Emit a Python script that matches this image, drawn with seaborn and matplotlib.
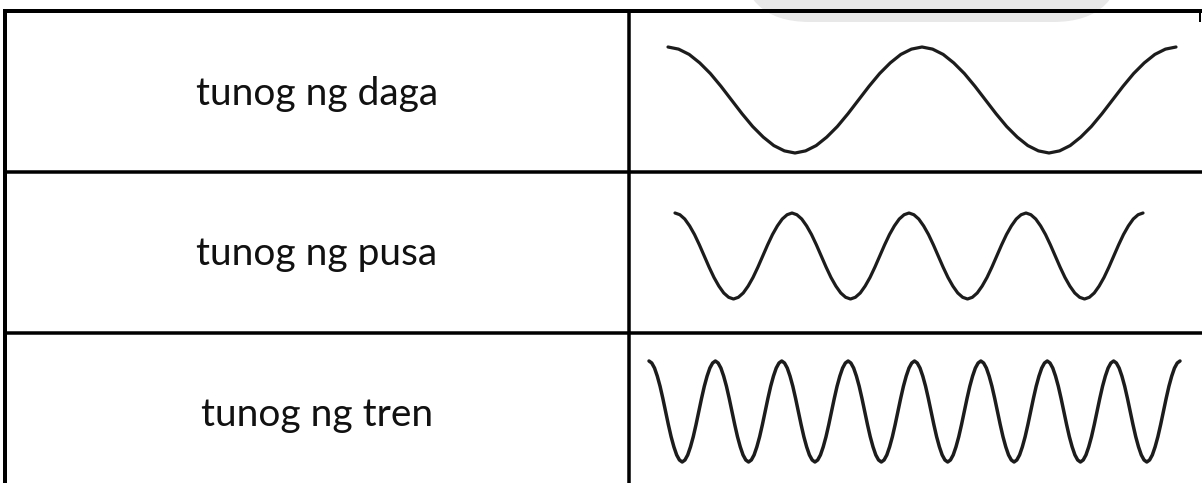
import matplotlib
matplotlib.use("Agg")
import matplotlib.pyplot as plt
import seaborn as sns
import numpy as np
from matplotlib.patches import FancyBboxPatch

labels = ["tunog ng daga", "tunog ng pusa", "tunog ng tren"]

# one crest-to-crest cycle of the drawn waves (1 = crest, 0 = trough)
wave_cycle = [1, .98, .93, .85, .75, .63, .5, .37, .25, .15, .07, .02,
              0, .02, .07, .15, .25, .37, .5, .63, .75, .85, .93, .98]
# how many cycles each picture shows: mouse, cat, train
cycles = [2, 4, 8]

sns.set_theme(style="white")
plt.rcParams["font.family"] = ["Lato", "DejaVu Sans"]

W, H = 1202, 483
fig = plt.figure(figsize=(W / 100, H / 100), dpi=100)
ax = fig.add_axes([0, 0, 1, 1])
ax.set_xlim(0, W)
ax.set_ylim(H, 0)
ax.axis("off")

# faint grey blob peeking in at the top
ax.add_patch(FancyBboxPatch((740, -120), 383, 142, boxstyle="round,pad=0,rounding_size=70",
                            fc="#e8e8e8", ec="none", zorder=0))

# table grid
px = 72 / 100
ax.plot([3, W], [11, 11], color="black", lw=4 * px, solid_capstyle="butt")
ax.plot([5, 5], [11, H], color="black", lw=4 * px, solid_capstyle="butt")
ax.plot([629, 629], [11, H], color="black", lw=3.5 * px, solid_capstyle="butt")
ax.plot([1200, 1200], [11, 22], color="black", lw=2 * px, solid_capstyle="butt")
for y in [172, 333]:
    ax.plot([5, W], [y, y], color="black", lw=3.5 * px, solid_capstyle="butt")

baselines = [105, 265, 426]
for lab, yb in zip(labels, baselines):
    ax.text(317, yb, lab, ha="center", va="baseline", fontsize=28, color="#111111")

# wave pictures, one small axes per cell
boxes = [(668, 1176, 47, 153), (675, 1143, 213, 299), (649, 1180, 361, 462)]
widths = [2.3, 2.3, 2.5]
for n, (x0, x1, y0, y1), lw in zip(cycles, boxes, widths):
    vals = np.append(np.tile(wave_cycle, n), wave_cycle[0])
    wax = fig.add_axes([x0 / W, 1 - y1 / H, (x1 - x0) / W, (y1 - y0) / H])
    sns.lineplot(x=np.arange(len(vals)), y=vals, ax=wax, color="#1c1c1c", linewidth=lw)
    for ln in wax.lines:
        ln.set_clip_on(False)
        ln.set_solid_joinstyle("round")
    wax.set_xlim(0, len(vals) - 1)
    wax.set_ylim(0, 1)
    wax.axis("off")

fig.savefig("out.png", dpi=100)
